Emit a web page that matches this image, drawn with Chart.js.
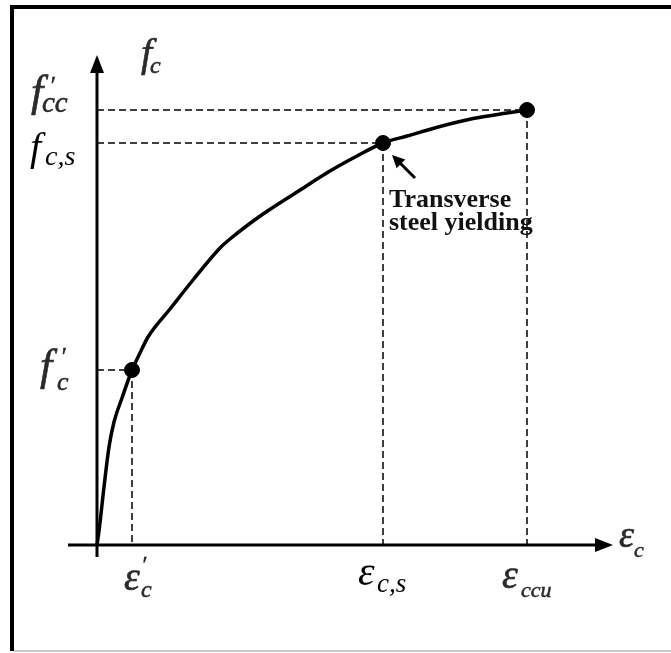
<!DOCTYPE html>
<html><head><meta charset="utf-8">
<script src="https://cdn.jsdelivr.net/npm/chart.js@4/dist/chart.umd.min.js"></script>
<style>html,body{margin:0;padding:0;background:#fff;}canvas{display:block}</style>
</head><body>
<canvas id="c" width="671" height="653"></canvas>
<script>
// stress-strain curve (schematic units)
const curveStrain = [0, 2, 7, 12, 17, 25, 35, 43, 51, 73, 96, 123, 133, 166, 200, 233, 260, 286, 310, 343, 376, 410, 430];
const curveStress = [0, 14, 58, 98, 123, 147, 175, 192, 208, 236, 265, 297, 306, 331, 353, 374, 389, 402, 409, 418.5, 426.5, 432, 435];
// key points: f'c, fc,s, f'cc
const pointStrain = [35, 286, 430];
const pointStress = [175, 402, 435];
// labels: [main symbol, prime, subscript]
const strainLabels = [["ε", "′", "c"], ["ε", "", "c,s"], ["ε", "", "ccu"]];
const stressLabels = [["f", "′", "c"], ["f", "", "c,s"], ["f", "′", "cc"]];
const axisTitles = { x: ["ε", "c"], y: ["f", "c"] };
const annotationText = ["Transverse", "steel yielding"];
const xRange = [-29, 516];
const yRange = [-12, 490];

const SERIF = '"Liberation Serif", "DejaVu Serif", serif';

function txt(ctx, t, x, y, size, color, heavy, italic) {
  if (!t) return;
  ctx.save();
  ctx.font = (italic === false ? '' : 'italic ') + size + 'px ' + SERIF;
  ctx.textBaseline = 'alphabetic';
  ctx.textAlign = 'left';
  ctx.fillStyle = color;
  ctx.fillText(t, x, y);
  if (heavy) { ctx.strokeStyle = color; ctx.lineWidth = heavy; ctx.strokeText(t, x, y); }
  ctx.restore();
}

const decor = {
  id: 'decor',
  beforeDraw(chart) {
    const ctx = chart.ctx;
    ctx.save();
    ctx.fillStyle = '#fff';
    ctx.fillRect(0, 0, chart.width, chart.height);
    ctx.fillStyle = '#000';
    ctx.fillRect(10, 5, chart.width - 10, 4);
    ctx.fillRect(10, 5, 4, chart.height - 7);
    ctx.fillStyle = '#c8c8c8';
    ctx.fillRect(14, 650, chart.width - 14, 2);
    ctx.restore();
  },
  beforeDatasetsDraw(chart) {
    const ctx = chart.ctx, xs = chart.scales.x, ys = chart.scales.y;
    const x0 = xs.getPixelForValue(0), y0 = ys.getPixelForValue(0);
    ctx.save();
    ctx.strokeStyle = '#000'; ctx.fillStyle = '#000'; ctx.lineWidth = 3;
    ctx.beginPath(); ctx.moveTo(x0, ys.bottom); ctx.lineTo(x0, ys.top + 14); ctx.stroke();
    ctx.beginPath(); ctx.moveTo(x0, ys.top); ctx.lineTo(x0 - 7, ys.top + 18); ctx.lineTo(x0 + 7, ys.top + 18); ctx.closePath(); ctx.fill();
    ctx.beginPath(); ctx.moveTo(xs.left, y0); ctx.lineTo(xs.right - 14, y0); ctx.stroke();
    ctx.beginPath(); ctx.moveTo(xs.right, y0); ctx.lineTo(xs.right - 18, y0 - 7); ctx.lineTo(xs.right - 18, y0 + 7); ctx.closePath(); ctx.fill();
    ctx.restore();
  },
  afterDraw(chart) {
    const ctx = chart.ctx, xs = chart.scales.x, ys = chart.scales.y;
    const y0 = ys.getPixelForValue(0);
    const g = '#2a2a2a', k = '#000';
    // stress labels on y axis
    let a = ys.getPixelForValue(pointStress[0]);
    txt(ctx, stressLabels[0][0], 40, a + 10, 44, g, 0.6);
    txt(ctx, stressLabels[0][1], 60, a - 5, 26, g, 0.4);
    txt(ctx, stressLabels[0][2], 57, a + 20, 26, g, 0.5);
    a = ys.getPixelForValue(pointStress[1]);
    txt(ctx, stressLabels[1][0], 30, a + 17, 40, k, 0);
    txt(ctx, stressLabels[1][2], 45, a + 22, 28, k, 0);
    a = ys.getPixelForValue(pointStress[2]);
    txt(ctx, stressLabels[2][0], 31, a - 4, 44, g, 0.6);
    txt(ctx, stressLabels[2][1], 49, a - 16, 26, g, 0.4);
    txt(ctx, stressLabels[2][2], 42, a + 2, 29, g, 0.5);
    // y axis title
    txt(ctx, axisTitles.y[0], 141, 66, 40, g, 0.6);
    txt(ctx, axisTitles.y[1], 150, 73, 24, g, 0.5);
    // strain labels on x axis
    a = xs.getPixelForValue(pointStrain[0]);
    txt(ctx, strainLabels[0][0], a - 8, y0 + 45, 40, g, 0.6);
    txt(ctx, strainLabels[0][1], a + 9, y0 + 27, 24, g, 0.4);
    txt(ctx, strainLabels[0][2], a + 9, y0 + 52, 24, g, 0.5);
    a = xs.getPixelForValue(pointStrain[1]);
    txt(ctx, strainLabels[1][0], a - 25, y0 + 40, 42, k, 0);
    txt(ctx, strainLabels[1][2], a - 6, y0 + 47, 27, k, 0);
    a = xs.getPixelForValue(pointStrain[2]);
    txt(ctx, strainLabels[2][0], a - 25, y0 + 43, 40, g, 0.6);
    txt(ctx, strainLabels[2][2], a - 6, y0 + 52, 22, g, 0.5);
    // x axis title
    txt(ctx, axisTitles.x[0], xs.right + 6, y0 + 2, 38, g, 0.6);
    txt(ctx, axisTitles.x[1], xs.right + 21, y0 + 12, 22, g, 0.5);
    // annotation arrow + text
    const px = xs.getPixelForValue(pointStrain[1]), py = ys.getPixelForValue(pointStress[1]);
    ctx.save();
    ctx.strokeStyle = '#000'; ctx.fillStyle = '#000'; ctx.lineWidth = 3;
    const tx = px + 9, ty = py + 12, sx = px + 32, sy = py + 35;
    ctx.beginPath(); ctx.moveTo(sx, sy); ctx.lineTo(tx + 6, ty + 6); ctx.stroke();
    const ang = Math.atan2(ty - sy, tx - sx);
    ctx.beginPath();
    ctx.moveTo(tx, ty);
    ctx.lineTo(tx - 14 * Math.cos(ang - 0.45), ty - 14 * Math.sin(ang - 0.45));
    ctx.lineTo(tx - 14 * Math.cos(ang + 0.45), ty - 14 * Math.sin(ang + 0.45));
    ctx.closePath(); ctx.fill();
    ctx.restore();
    ctx.save();
    ctx.font = 'bold 26px ' + SERIF;
    ctx.fillStyle = '#111';
    ctx.textBaseline = 'alphabetic';
    ctx.fillText(annotationText[0], px + 6, py + 64);
    ctx.fillText(annotationText[1], px + 6, py + 87);
    ctx.restore();
  }
};

const xy = (xa, ya) => xa.map((v, i) => ({x: v, y: ya[i]}));
const guides = [];
pointStrain.forEach((sx, i) => {
  guides.push({data: [{x: 0, y: pointStress[i]}, {x: sx, y: pointStress[i]}], borderColor: '#000', borderWidth: 1.5, borderDash: [7, 4], pointRadius: 0, showLine: true, fill: false});
  guides.push({data: [{x: sx, y: pointStress[i]}, {x: sx, y: 0}], borderColor: '#000', borderWidth: 1.5, borderDash: [7, 4], pointRadius: 0, showLine: true, fill: false});
});

new Chart(document.getElementById('c'), {
  type: 'scatter',
  data: {
    datasets: [
      ...guides,
      {data: xy(curveStrain, curveStress), showLine: true, borderColor: '#000', borderWidth: 3.5, pointRadius: 0, cubicInterpolationMode: 'monotone', fill: false},
      {data: xy(pointStrain, pointStress), showLine: false, pointRadius: 7.5, pointBackgroundColor: '#000', pointBorderColor: '#000', pointBorderWidth: 1}
    ]
  },
  options: {
    responsive: false,
    animation: false,
    devicePixelRatio: 1,
    layout: {padding: {left: 68, right: 58, top: 55, bottom: 96}},
    plugins: {legend: {display: false}, tooltip: {enabled: false}},
    scales: {
      x: {type: 'linear', display: false, min: xRange[0], max: xRange[1]},
      y: {type: 'linear', display: false, min: yRange[0], max: yRange[1]}
    }
  },
  plugins: [decor]
});
</script>
</body></html>
